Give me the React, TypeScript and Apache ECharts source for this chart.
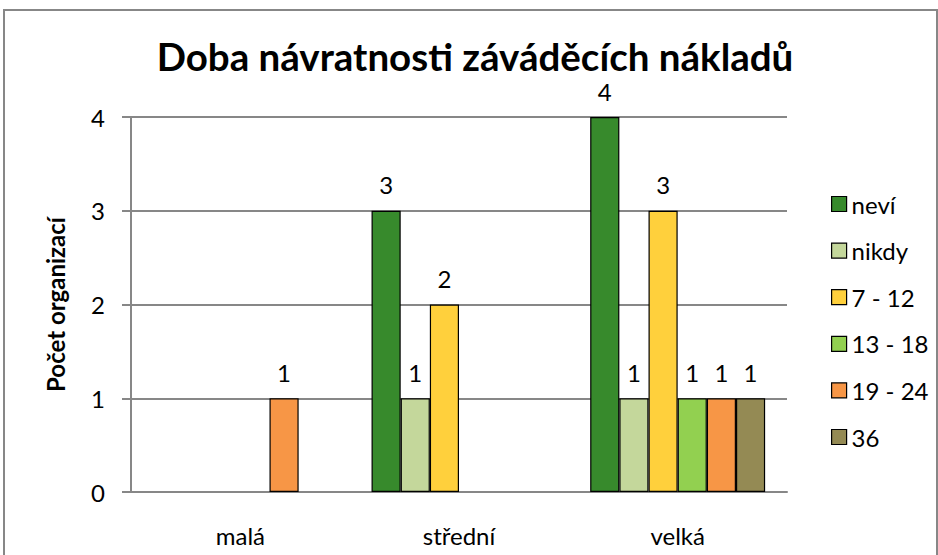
import React, { useEffect, useRef } from "react";
import * as echarts from "echarts";

const categories = ["malá", "střední", "velká"];
const seriesNames = ["neví", "nikdy", "7 - 12", "13 - 18", "19 - 24", "36"];
const nevi = [null, 3, 4];
const nikdy = [null, 1, 1];
const m7_12 = [null, 2, 3];
const m13_18 = [null, null, 1];
const m19_24 = [1, null, 1];
const m36 = [null, null, 1];
const yTicks = [0, 1, 2, 3, 4];

const colors = ["#378A2C", "#C4D79B", "#FFD03C", "#92D050", "#F79646", "#948A54"];
const FONT = "Lato, 'Open Sans', sans-serif";

export default function App() {
  const ref = useRef<HTMLDivElement>(null);
  useEffect(() => {
    if (!ref.current) return;
    const chart = echarts.init(ref.current, null, { renderer: "svg" });
    const values = [nevi, nikdy, m7_12, m13_18, m19_24, m36];
    chart.setOption({
      animation: false,
      backgroundColor: "#fff",
      textStyle: { fontFamily: FONT },
      title: {
        text: "Doba návratnosti záváděcích nákladů",
        left: 475,
        textAlign: "center",
        top: 35,
        padding: 0,
        textStyle: { fontFamily: FONT, fontSize: 38.5, lineHeight: 42, fontWeight: "bold", color: "#000" },
      },
      graphic: [
        {
          type: "rect",
          shape: { x: 4, y: 10, width: 933, height: 560 },
          style: { fill: "none", stroke: "#878787", lineWidth: 2 },
          silent: true,
        },
      ],
      legend: {
        orient: "vertical",
        left: 831,
        top: 192,
        padding: 0,
        itemWidth: 15,
        itemHeight: 15,
        itemGap: 22.6,
        icon: "rect",
        textStyle: { fontFamily: FONT, fontSize: 24, lineHeight: 24, color: "#000" },
        data: seriesNames.map((n, i) => ({
          name: n,
          itemStyle: { color: colors[i], borderColor: "#000", borderWidth: 1.2 },
        })),
      },
      grid: { left: 131, right: 151, top: 117, bottom: 63 },
      xAxis: {
        type: "category",
        data: categories,
        axisLine: { lineStyle: { color: "#878787", width: 2 } },
        axisTick: { show: false },
        axisLabel: { fontFamily: FONT, fontSize: 24, color: "#000", margin: 31 },
      },
      yAxis: {
        type: "value",
        min: yTicks[0],
        max: yTicks[yTicks.length - 1],
        interval: 1,
        name: "Počet organizací",
        nameLocation: "middle",
        nameGap: 64,
        nameTextStyle: { fontFamily: FONT, fontSize: 24, fontWeight: "bold", color: "#000" },
        axisLine: { show: true, lineStyle: { color: "#878787", width: 2 } },
        axisTick: { show: true, length: 9, lineStyle: { color: "#878787", width: 2 } },
        axisLabel: { fontFamily: FONT, fontSize: 24, color: "#000", margin: 26 },
        splitLine: { lineStyle: { color: "#878787", width: 2 } },
      },
      series: seriesNames.map((n, i) => ({
        name: n,
        type: "bar",
        data: values[i],
        barGap: "0%",
        barCategoryGap: "20%",
        itemStyle: { color: colors[i], borderColor: "#000", borderWidth: 1.2 },
        label: {
          show: true,
          position: "top",
          distance: 14,
          fontFamily: FONT,
          fontSize: 24,
          color: "#000",
        },
      })),
    });
    return () => chart.dispose();
  }, []);
  return <div ref={ref} style={{ width: 938, height: 555, position: "absolute", left: 0, top: 0 }} />;
}
